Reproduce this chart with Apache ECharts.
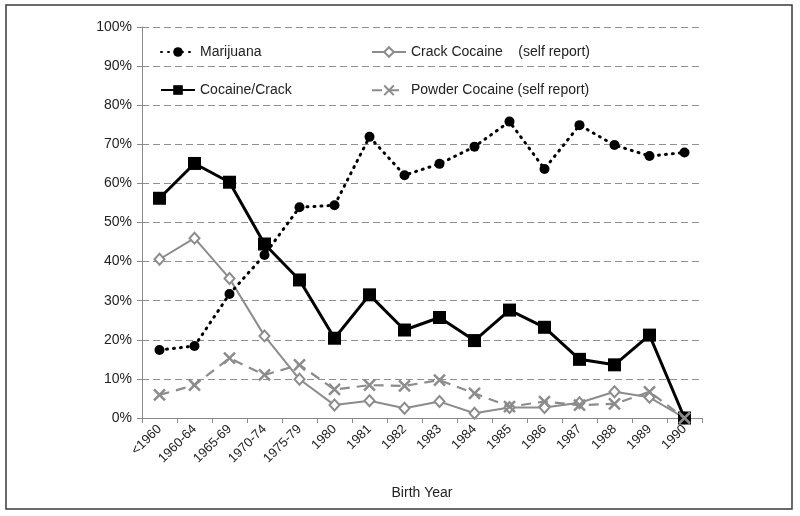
<!DOCTYPE html>
<html>
<head>
<meta charset="utf-8">
<script src="https://cdn.jsdelivr.net/npm/echarts@6/dist/echarts.min.js"></script>
<style>
html,body{margin:0;padding:0;background:#fff;}
#chart{width:800px;height:516px;}
</style>
</head>
<body>
<div id="chart"></div>
<script>
const categories = ['<1960','1960-64','1965-69','1970-74','1975-79','1980','1981','1982','1983','1984','1985','1986','1987','1988','1989','1990'];
const marijuana = [17.4,18.4,31.7,41.7,53.9,54.4,71.9,62.1,65.0,69.4,75.8,63.7,74.9,69.8,67.0,67.9];
const cocaineCrack = [56.2,65.1,60.3,44.5,35.3,20.4,31.5,22.5,25.7,19.8,27.6,23.2,15.0,13.6,21.2,0];
const crackSelf = [40.6,46.0,35.7,21.0,9.9,3.3,4.4,2.5,4.2,1.2,2.7,2.7,3.9,6.7,5.3,0];
const powderSelf = [5.9,8.4,15.3,11.0,13.6,7.3,8.4,8.2,9.7,6.3,2.9,4.2,3.3,3.6,6.7,0];
const yTicks = [0,10,20,30,40,50,60,70,80,90,100];

const names = ['Marijuana','Cocaine/Crack','Crack Cocaine    (self report)','Powder Cocaine (self report)'];
const font = 'Liberation Sans, Arial, sans-serif';

const chart = echarts.init(document.getElementById('chart'), null, {renderer:'canvas'});
chart.setOption({
  backgroundColor:'#fff',
  animation:false,
  graphic:[{type:'rect', shape:{x:6,y:5,width:786,height:504}, style:{fill:'none', stroke:'#3a3a3a', lineWidth:1.5}, silent:true, z:-1}],
  grid:{left:142, right:98, top:27, bottom:98},
  legend:[
    {data:[names[0],names[1]], orient:'vertical', left:155, top:40, itemGap:24, itemWidth:34, itemHeight:12,
     textStyle:{fontFamily:font, fontSize:14, color:'#222'}},
    {data:[names[2],names[3]], orient:'vertical', left:366, top:40, itemGap:24, itemWidth:34, itemHeight:12,
     textStyle:{fontFamily:font, fontSize:14, color:'#222'}}
  ],
  xAxis:{
    type:'category', data:categories, boundaryGap:true,
    name:'Birth Year', nameLocation:'middle', nameGap:68,
    nameTextStyle:{fontFamily:font, fontSize:14, color:'#222'},
    axisLine:{lineStyle:{color:'#8a8a8a', width:1}},
    axisTick:{show:true, alignWithLabel:false, length:5, lineStyle:{color:'#8a8a8a'}},
    axisLabel:{rotate:45, fontFamily:font, fontSize:13, color:'#222', margin:9, interval:0}
  },
  yAxis:{
    type:'value', min:0, max:100, interval:10,
    axisLine:{show:true, lineStyle:{color:'#8a8a8a', width:1}},
    axisTick:{show:true, length:5, lineStyle:{color:'#8a8a8a'}},
    axisLabel:{formatter:v=>v+'%', fontFamily:font, fontSize:14, color:'#222', margin:10},
    splitLine:{show:true, lineStyle:{color:'#8f8f8f', type:[7,4], width:1.2}}
  },
  series:[
    {name:names[0], type:'line', data:marijuana, symbol:'circle', symbolSize:10,
     lineStyle:{color:'#000', width:3, type:[1,6], cap:'round'}, itemStyle:{color:'#000'}, z:3},
    {name:names[1], type:'line', data:cocaineCrack, symbol:'rect', symbolSize:13,
     lineStyle:{color:'#000', width:3}, itemStyle:{color:'#000'}, z:4},
    {name:names[2], type:'line', data:crackSelf, symbol:'diamond', symbolSize:[10,11],
     lineStyle:{color:'#8c8c8c', width:2}, itemStyle:{color:'#fff', borderColor:'#8c8c8c', borderWidth:2}, z:2},
    {name:names[3], type:'line', data:powderSelf,
     symbol:'path://M0,0 L10,10 M10,0 L0,10', symbolSize:11,
     lineStyle:{color:'#8c8c8c', width:2.2, type:[10,7]}, itemStyle:{color:'none', borderColor:'#8c8c8c', borderWidth:2.5}, z:5}
  ]
});
</script>
</body>
</html>
